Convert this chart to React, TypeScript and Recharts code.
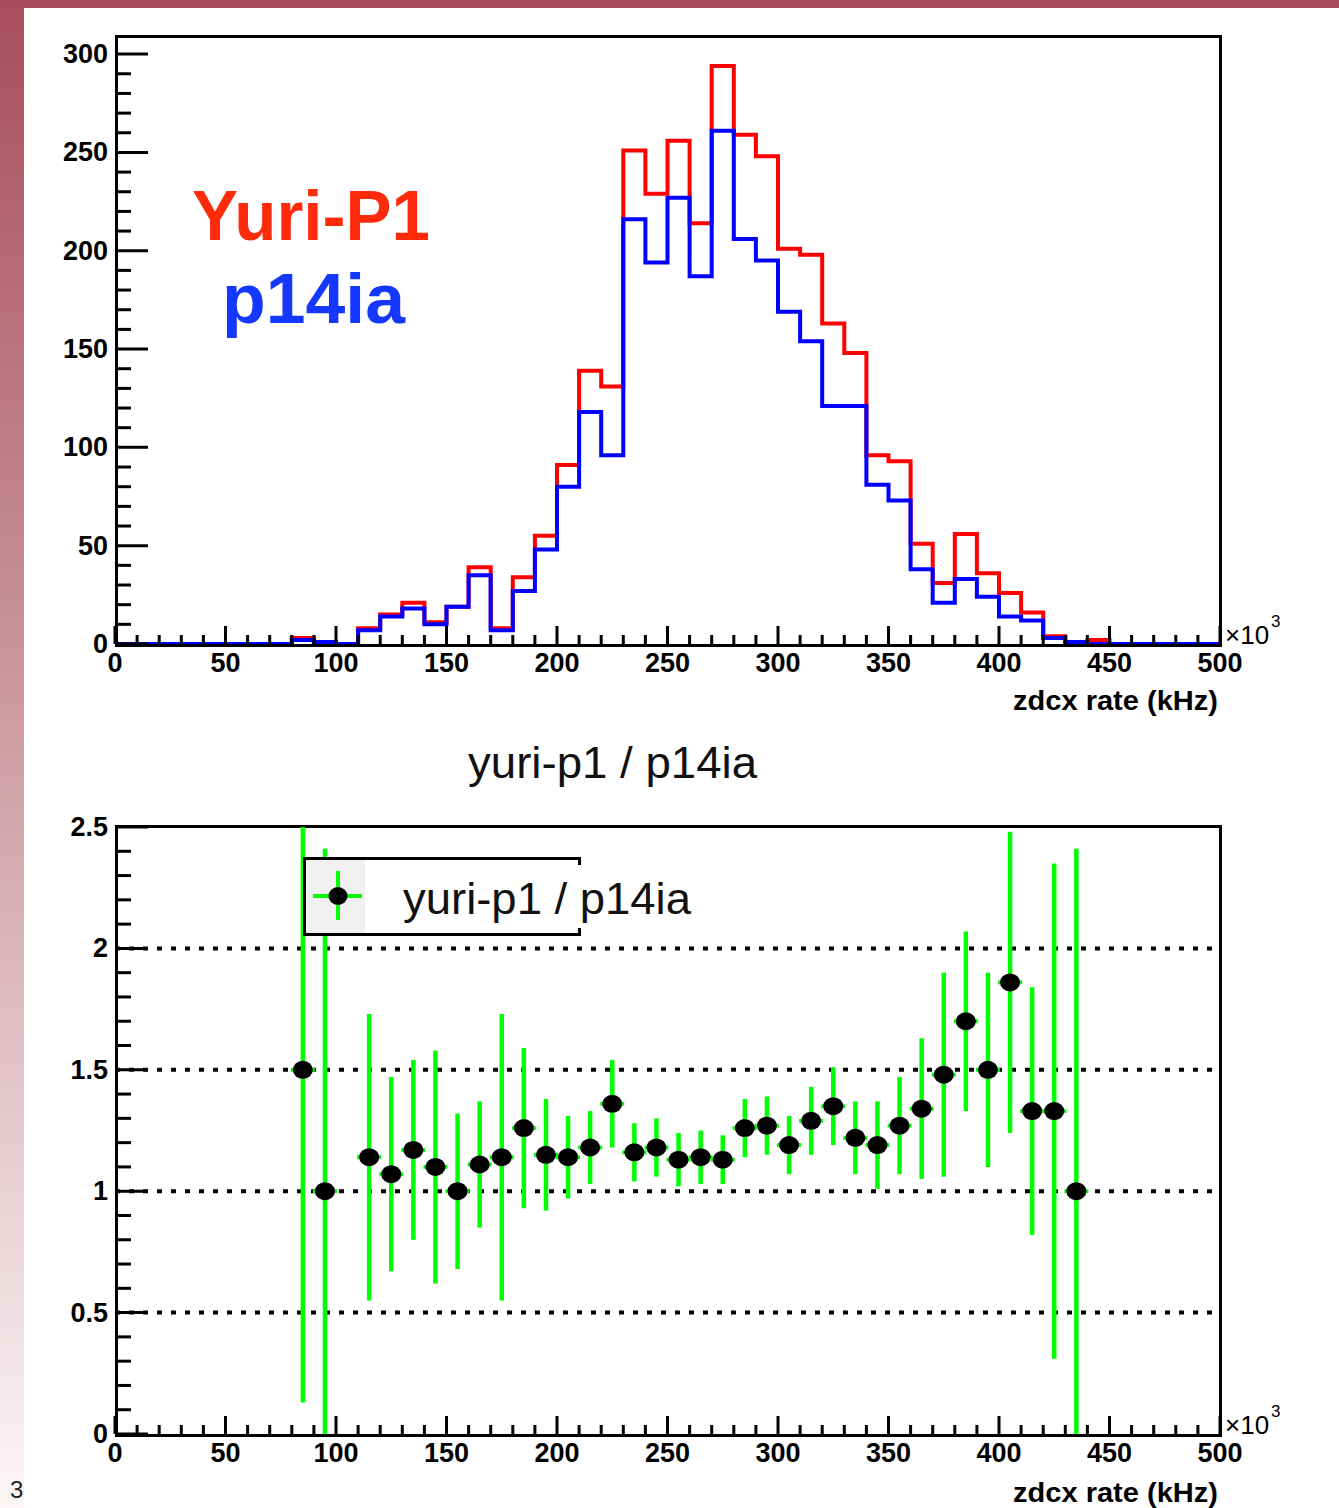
// zdcx rate histograms (Yuri-P1 vs p14ia) and their ratio
import React from 'react';
import { LineChart, Line, XAxis, YAxis, ScatterChart, Scatter, ErrorBar, ReferenceLine, Legend } from 'recharts';

const FONT = '"Liberation Sans", Arial, Helvetica, sans-serif';

// bin low edges (x10^3), bin width 10
const binLow = [
    0, 10, 20, 30, 40, 50, 60, 70, 80, 90,
    100, 110, 120, 130, 140, 150, 160, 170, 180, 190,
    200, 210, 220, 230, 240, 250, 260, 270, 280, 290,
    300, 310, 320, 330, 340, 350, 360, 370, 380, 390,
    400, 410, 420, 430, 440, 450, 460, 470, 480, 490,
];

const yuriP1 = [
    0, 0, 0, 0, 0, 0, 0, 0, 3, 1,
    0, 8, 15, 21, 11, 19, 39, 8, 34, 55,
    91, 139, 131, 251, 229, 256, 214, 294, 259, 248,
    201, 198, 163, 148, 96, 93, 51, 31, 56, 36,
    26, 16, 4, 1, 2, 0, 0, 0, 0, 0,
];

const p14ia = [
    0, 0, 0, 0, 0, 0, 0, 0, 2, 1,
    0, 7, 14, 18, 10, 19, 35, 7, 27, 48,
    80, 118, 96, 216, 194, 227, 187, 261, 206, 195,
    169, 154, 121, 121, 81, 73, 38, 21, 33, 24,
    14, 12, 3, 1, 0, 0, 0, 0, 0, 0,
];

// ratio yuri-p1 / p14ia at bin centres
const ratioX = [
    85, 95, 115, 125, 135, 145, 155, 165, 175, 185,
    195, 205, 215, 225, 235, 245, 255, 265, 275, 285,
    295, 305, 315, 325, 335, 345, 355, 365, 375, 385,
    395, 405, 415, 425, 435,
];
const ratioVal = [
    1.50, 1.00, 1.14, 1.07, 1.17, 1.10, 1.00, 1.11, 1.14, 1.26,
    1.15, 1.14, 1.18, 1.36, 1.16, 1.18, 1.13, 1.14, 1.13, 1.26,
    1.27, 1.19, 1.29, 1.35, 1.22, 1.19, 1.27, 1.34, 1.48, 1.70,
    1.50, 1.86, 1.33, 1.33, 1.00,
];
const ratioErr = [
    1.37, 1.41, 0.59, 0.40, 0.37, 0.48, 0.32, 0.26, 0.59, 0.33,
    0.23, 0.17, 0.15, 0.18, 0.12, 0.12, 0.11, 0.11, 0.10, 0.12,
    0.12, 0.12, 0.14, 0.16, 0.15, 0.18, 0.20, 0.29, 0.42, 0.37,
    0.40, 0.62, 0.51, 1.02, 1.41,
];

const xMajorTicks = [0, 50, 100, 150, 200, 250, 300, 350, 400, 450, 500];
const topYMajorTicks = [0, 50, 100, 150, 200, 250, 300];
const botYMajorTicks = [0, 0.5, 1, 1.5, 2, 2.5];
const gridLevels = [0.5, 1, 1.5, 2];

const TOP_Y_MAX = 308.7;
const BOT_Y_MAX = 2.5;

// minor ticks (5 per major division)
const xTicks = Array.from({ length: 51 }, (_, i) => i * 10);
const topYTicks = Array.from({ length: 31 }, (_, i) => i * 10);
const botYTicks = Array.from({ length: 26 }, (_, i) => i / 10);

const histRows = binLow
    .map((x, i) => ({ x, red: yuriP1[i], blue: p14ia[i] }))
    .concat([{ x: 500, red: yuriP1[yuriP1.length - 1], blue: p14ia[p14ia.length - 1] }]);

// error bars are cut at the frame like ROOT does
const ratioRows = ratioX.map((x, i) => ({
    x,
    r: ratioVal[i],
    err: [Math.min(ratioErr[i], ratioVal[i]), Math.min(ratioErr[i], BOT_Y_MAX - ratioVal[i])],
}));

const isMajor = (v: number, list: number[]) => list.some((m) => Math.abs(m - v) < 1e-6);

const XTick = (props: any) => {
    const { x, y, payload } = props;
    const v = payload.value;
    const major = isMajor(v, xMajorTicks);
    return (
        <g>
            <line x1={x} x2={x} y1={y} y2={y - (major ? 18 : 9)} stroke="#000" strokeWidth={3} />
            {major && (
                <text x={x} y={y + 28} textAnchor="middle" fontFamily={FONT} fontWeight="bold" fontSize={27} fill="#000">
                    {v}
                </text>
            )}
        </g>
    );
};

const makeYTick = (majors: number[]) => (props: any) => {
    const { x, y, payload } = props;
    const v = payload.value;
    const major = isMajor(v, majors);
    return (
        <g>
            <line x1={x} x2={x + (major ? 33 : 16)} y1={y} y2={y} stroke="#000" strokeWidth={3} />
            {major && (
                <text x={x - 7} y={y + 9} textAnchor="end" fontFamily={FONT} fontWeight="bold" fontSize={27} fill="#000">
                    {v}
                </text>
            )}
        </g>
    );
};

const TopYTick = makeYTick(topYMajorTicks);
const BotYTick = makeYTick(botYMajorTicks);

const RatioMarker = (props: any) => {
    const { cx, cy } = props;
    return (
        <g>
            <line x1={cx - 12} x2={cx + 12} y1={cy} y2={cy} stroke="#00ff00" strokeWidth={4} />
            <ellipse cx={cx} cy={cy} rx={10} ry={9} fill="#000" />
        </g>
    );
};

const RatioLegend = () => (
    <svg width={400} height={82} style={{ display: 'block', overflow: 'visible' }}>
        <rect x={4} y={3} width={58} height={73} fill="#f0f0f0" />
        <rect x={62} y={3} width={212} height={73} fill="#fff" />
        <line x1={1.5} x2={1.5} y1={0} y2={79} stroke="#000" strokeWidth={3} />
        <line x1={0} x2={278} y1={1.5} y2={1.5} stroke="#000" strokeWidth={3} />
        <line x1={0} x2={278} y1={77.5} y2={77.5} stroke="#000" strokeWidth={3} />
        <line x1={276.5} x2={276.5} y1={0} y2={8} stroke="#000" strokeWidth={3} />
        <line x1={276.5} x2={276.5} y1={71} y2={79} stroke="#000" strokeWidth={3} />
        <line x1={10} x2={59} y1={39} y2={39} stroke="#00ff00" strokeWidth={4} />
        <line x1={35} x2={35} y1={14} y2={63} stroke="#00ff00" strokeWidth={4} />
        <ellipse cx={35} cy={39} rx={9.5} ry={9} fill="#000" />
        <text x={100} y={57} fontFamily={FONT} fontSize={44} fill="#111" textLength={288} lengthAdjust="spacingAndGlyphs">
            yuri-p1 / p14ia
        </text>
    </svg>
);

const abs = (left: number, top: number, width: number, height: number): React.CSSProperties => ({
    position: 'absolute',
    left,
    top,
    width,
    height,
});

export default function App() {
    return (
        <div style={{ ...abs(0, 0, 1339, 1508), background: '#fff', overflow: 'hidden', fontFamily: FONT }}>
            {/* slide decoration */}
            <div style={{ ...abs(0, 0, 1339, 8), background: '#a84e5a' }} />
            <div style={{ ...abs(0, 0, 24, 1508), background: 'linear-gradient(to bottom, #a84e5a 0%, #c68e98 40%, #fbf5f6 100%)' }} />

            {/* frames */}
            <div style={{ ...abs(115, 35, 1107, 612), border: '3px solid #000', boxSizing: 'border-box' }} />
            <div style={{ ...abs(115, 825, 1107, 612), border: '3px solid #000', boxSizing: 'border-box' }} />

            {/* top: histograms */}
            <div style={abs(0, 0, 1339, 720)}>
                <LineChart width={1339} height={720} data={histRows} margin={{ top: 37, right: 119, bottom: 75, left: 114 }}>
                    <XAxis
                        type="number"
                        dataKey="x"
                        domain={[0, 500]}
                        ticks={xTicks}
                        interval={0}
                        height={1}
                        tickSize={0}
                        tickMargin={0}
                        axisLine={false}
                        tickLine={false}
                        tick={XTick}
                        allowDataOverflow
                    />
                    <YAxis
                        type="number"
                        domain={[0, TOP_Y_MAX]}
                        ticks={topYTicks}
                        interval={0}
                        width={1}
                        tickSize={0}
                        tickMargin={0}
                        axisLine={false}
                        tickLine={false}
                        tick={TopYTick}
                        allowDataOverflow
                    />
                    <Line type="stepAfter" dataKey="red" stroke="#ff0000" strokeWidth={4} dot={false} activeDot={false} isAnimationActive={false} />
                    <Line type="stepAfter" dataKey="blue" stroke="#0000ff" strokeWidth={4} dot={false} activeDot={false} isAnimationActive={false} />
                </LineChart>
            </div>

            {/* bottom: ratio */}
            <div style={abs(0, 760, 1339, 748)}>
                <ScatterChart width={1339} height={748} margin={{ top: 67, right: 119, bottom: 73, left: 114 }}>
                    <XAxis
                        type="number"
                        dataKey="x"
                        domain={[0, 500]}
                        ticks={xTicks}
                        interval={0}
                        height={1}
                        tickSize={0}
                        tickMargin={0}
                        axisLine={false}
                        tickLine={false}
                        tick={XTick}
                        allowDataOverflow
                    />
                    <YAxis
                        type="number"
                        dataKey="r"
                        domain={[0, BOT_Y_MAX]}
                        ticks={botYTicks}
                        interval={0}
                        width={1}
                        tickSize={0}
                        tickMargin={0}
                        axisLine={false}
                        tickLine={false}
                        tick={BotYTick}
                        allowDataOverflow
                    />
                    {gridLevels.map((g) => (
                        <ReferenceLine key={g} y={g} stroke="#000" strokeWidth={4} strokeDasharray="5 9" />
                    ))}
                    <Scatter data={ratioRows} dataKey="r" shape={RatioMarker} isAnimationActive={false}>
                        <ErrorBar dataKey="err" direction="y" width={0} stroke="#00ff00" strokeWidth={4.5} isAnimationActive={false} />
                    </Scatter>
                    <Legend
                        layout="horizontal"
                        verticalAlign="middle"
                        align="center"
                        content={RatioLegend}
                        wrapperStyle={{ position: 'absolute', left: 303, top: 97, width: 400, height: 82 }}
                    />
                </ScatterChart>
            </div>

            {/* labels */}
            <svg style={{ ...abs(0, 0, 1339, 1508), pointerEvents: 'none' }} width={1339} height={1508}>
                <text x={192} y={240} fontFamily={FONT} fontWeight="bold" fontSize={71} fill="#ff2a0a" textLength={238} lengthAdjust="spacingAndGlyphs">
                    Yuri-P1
                </text>
                <text x={222} y={323} fontFamily={FONT} fontWeight="bold" fontSize={71} fill="#1438ff" textLength={183} lengthAdjust="spacingAndGlyphs">
                    p14ia
                </text>
                <text x={468} y={778} fontFamily={FONT} fontSize={45} fill="#111" textLength={289} lengthAdjust="spacingAndGlyphs">
                    yuri-p1 / p14ia
                </text>

                <text x={1013} y={710} fontFamily={FONT} fontWeight="bold" fontSize={28} fill="#000" textLength={205} lengthAdjust="spacingAndGlyphs">
                    zdcx rate (kHz)
                </text>
                <text x={1225} y={644} fontFamily={FONT} fontSize={26} fill="#000">×10</text>
                <text x={1271} y={627} fontFamily={FONT} fontSize={17} fill="#000">3</text>

                <text x={1013} y={1502} fontFamily={FONT} fontWeight="bold" fontSize={28} fill="#000" textLength={205} lengthAdjust="spacingAndGlyphs">
                    zdcx rate (kHz)
                </text>
                <text x={1225} y={1434} fontFamily={FONT} fontSize={26} fill="#000">×10</text>
                <text x={1271} y={1417} fontFamily={FONT} fontSize={17} fill="#000">3</text>

                <text x={10} y={1498} fontFamily={FONT} fontSize={24} fill="#222">3</text>
            </svg>
        </div>
    );
}
